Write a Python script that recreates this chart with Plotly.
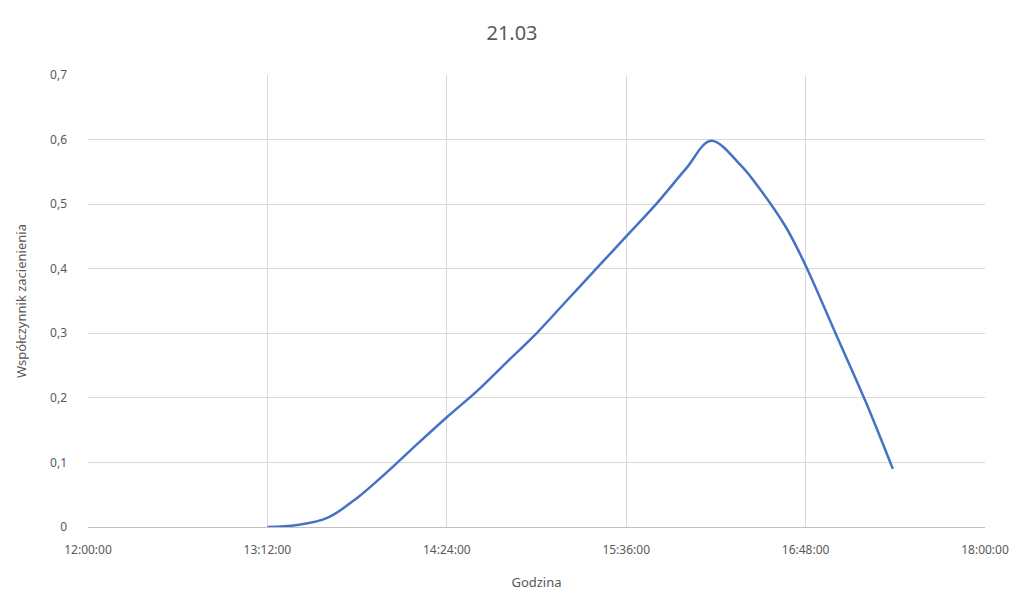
import plotly.graph_objects as go

# Shading coefficient over the afternoon of 21.03
times = ["13:12", "13:24", "13:36", "13:48", "14:00", "14:12", "14:24", "14:36",
         "14:48", "15:00", "15:12", "15:24", "15:36", "15:48", "16:00", "16:10",
         "16:22", "16:28", "16:40", "16:48", "17:00", "17:12", "17:23"]
shading = [0.0, 0.003, 0.014, 0.045, 0.085, 0.128, 0.17, 0.21,
           0.255, 0.30, 0.35, 0.40, 0.45, 0.50, 0.555, 0.598,
           0.56, 0.532, 0.465, 0.405, 0.30, 0.195, 0.09]

tick_labels = ["12:00:00", "13:12:00", "14:24:00", "15:36:00", "16:48:00", "18:00:00"]

day = "2000-03-21 "
x = [day + t + ":00" for t in times]
tick_vals = [day + t for t in tick_labels]

grey = "#595959"
font_family = "Noto Sans"

fig = go.Figure()
fig.add_trace(go.Scatter(
    x=x, y=shading, mode="lines",
    line=dict(color="#4472C4", width=2.5, shape="spline", smoothing=1.0),
    hoverinfo="skip",
))

fig.update_layout(
    width=1024, height=598,
    margin=dict(l=88, r=39, t=75, b=71),
    paper_bgcolor="white", plot_bgcolor="white",
    separators=", ",
    showlegend=False,
    title=dict(text="21.03", x=0.5, xanchor="center", y=0.945, yanchor="middle",
               font=dict(family=font_family, size=20, color=grey)),
    font=dict(family=font_family, color=grey),
)

fig.update_xaxes(
    type="date", automargin=False,
    range=[tick_vals[0], tick_vals[-1]],
    tickvals=tick_vals, ticktext=tick_labels,
    showgrid=True, gridcolor="#d9d9d9", gridwidth=1,
    showline=True, linecolor="#bfbfbf", linewidth=1,
    ticks="", tickfont=dict(size=12, color=grey), ticklabelstandoff=12,
    title=dict(text="Godzina", font=dict(size=13, color=grey), standoff=20),
    zeroline=False,
)

fig.update_yaxes(
    range=[0, 0.7], dtick=0.1, tickformat=".1~f", automargin=False,
    showgrid=True, gridcolor="#d9d9d9", gridwidth=1,
    showline=False, zeroline=False,
    ticks="", tickfont=dict(size=12, color=grey), ticklabelstandoff=20,
    title=dict(text="Współczynnik zacienienia", font=dict(size=13, color=grey), standoff=20),
)

fig.write_html("out.html")
